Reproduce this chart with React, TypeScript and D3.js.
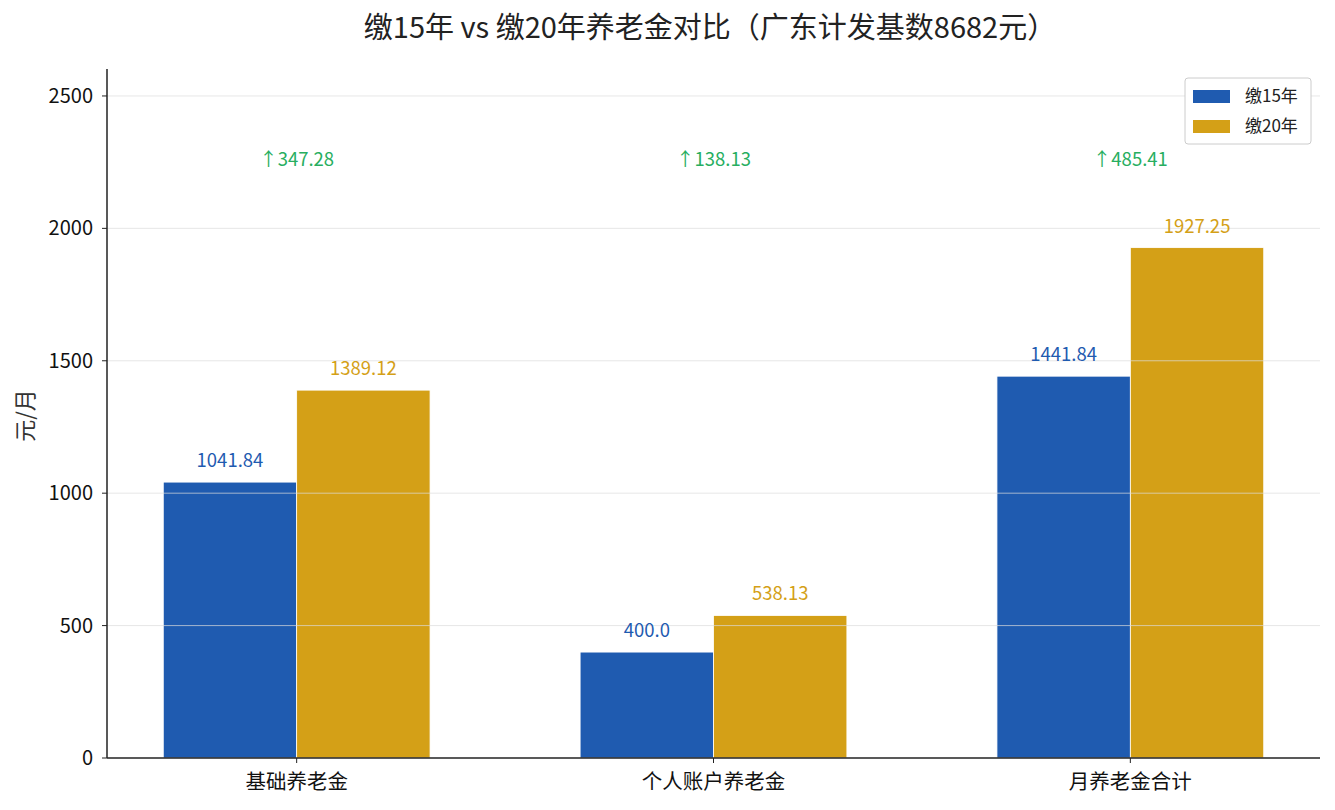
import React from 'react';
import * as d3 from 'd3';

const categories = ['基础养老金', '个人账户养老金', '月养老金合计'];
const years15 = [1041.84, 400.0, 1441.84];
const years20 = [1389.12, 538.13, 1927.25];
const diffs = [347.28, 138.13, 485.41];
const yTicks = [0, 500, 1000, 1500, 2000, 2500];
const seriesNames = ['缴15年', '缴20年'];

const BLUE = '#1f5bb0';
const GOLD = '#d4a017';
const GREEN = '#27ae60';
const FONT = '"Noto Sans CJK SC", "Noto Sans", sans-serif';

const W = 1335;
const H = 810;
const margin = { left: 107, right: 15, top: 69, bottom: 52 };

const App = () => {
  const barW = 0.32;
  const xScale = d3.scaleLinear()
    .domain([-0.455, 2.455])
    .range([margin.left, W - margin.right]);
  const yMax = d3.max(years20) as number * 1.35;
  const yScale = d3.scaleLinear()
    .domain([0, yMax])
    .range([H - margin.bottom, margin.top]);
  const bottom = yScale(0);
  const pxW = xScale(barW) - xScale(0);

  const fmt = (v: number) => (Number.isInteger(v) ? v.toFixed(1) : String(v));

  return (
    <svg width={W} height={H} style={{ display: 'block', margin: '-8px', fontFamily: FONT }}>
      <rect width={W} height={H} fill="#fff" />
      <text x={710} y={38} textAnchor="middle" fontSize={29} fill="#222">
        缴15年 vs 缴20年养老金对比（广东计发基数8682元）
      </text>

      {categories.map((c, i) => (
        <g key={c}>
          <rect x={xScale(i - barW)} y={yScale(years15[i])} width={pxW} height={bottom - yScale(years15[i])} fill={BLUE} stroke="#fff" strokeWidth={0.8} />
          <rect x={xScale(i)} y={yScale(years20[i])} width={pxW} height={bottom - yScale(years20[i])} fill={GOLD} stroke="#fff" strokeWidth={0.8} />
        </g>
      ))}

      {yTicks.filter((t) => t > 0).map((t) => (
        <line key={t} x1={margin.left} x2={W - margin.right} y1={yScale(t)} y2={yScale(t)} stroke="#ddd" strokeOpacity={0.7} strokeWidth={1} />
      ))}

      {categories.map((c, i) => (
        <g key={`lab-${c}`} fontSize={18.5}>
          <text x={xScale(i - barW / 2)} y={yScale(years15[i]) - 15} textAnchor="middle" fill={BLUE}>{fmt(years15[i])}</text>
          <text x={xScale(i + barW / 2)} y={yScale(years20[i]) - 15} textAnchor="middle" fill={GOLD}>{fmt(years20[i])}</text>
          <text x={xScale(i)} y={yScale(d3.max(years20) as number * 1.15) - 5} textAnchor="middle" fill={GREEN}>{`↑${diffs[i]}`}</text>
        </g>
      ))}

      <line x1={margin.left} x2={margin.left} y1={margin.top} y2={bottom} stroke="#222" strokeWidth={1.5} />
      <line x1={margin.left} x2={W - margin.right} y1={bottom} y2={bottom} stroke="#222" strokeWidth={1.5} />

      {yTicks.map((t) => (
        <g key={`yt-${t}`} transform={`translate(${margin.left}, ${yScale(t)})`}>
          <line x1={-5} x2={0} stroke="#222" />
          <text x={-14} dy="0.35em" textAnchor="end" fontSize={20} fill="#111">{t}</text>
        </g>
      ))}
      {categories.map((c, i) => (
        <g key={`xt-${c}`} transform={`translate(${xScale(i)}, ${bottom})`}>
          <line y1={0} y2={5} stroke="#222" />
          <text y={31} textAnchor="middle" fontSize={20.5} fill="#111">{c}</text>
        </g>
      ))}

      <text transform={`translate(33, ${(margin.top + bottom) / 2 + 2}) rotate(-90)`} textAnchor="middle" fontSize={22} fill="#333">元/月</text>

      <g transform="translate(1185, 78)">
        <rect width={126} height={66} rx={3} fill="#fff" stroke="#ccc" strokeWidth={1} />
        {seriesNames.map((s, i) => (
          <g key={s} transform={`translate(0, ${i * 30})`}>
            <rect x={8} y={12} width={37} height={13} fill={i === 0 ? BLUE : GOLD} />
            <text x={60} y={24} fontSize={17} fill="#222">{s}</text>
          </g>
        ))}
      </g>
    </svg>
  );
};

export default App;
